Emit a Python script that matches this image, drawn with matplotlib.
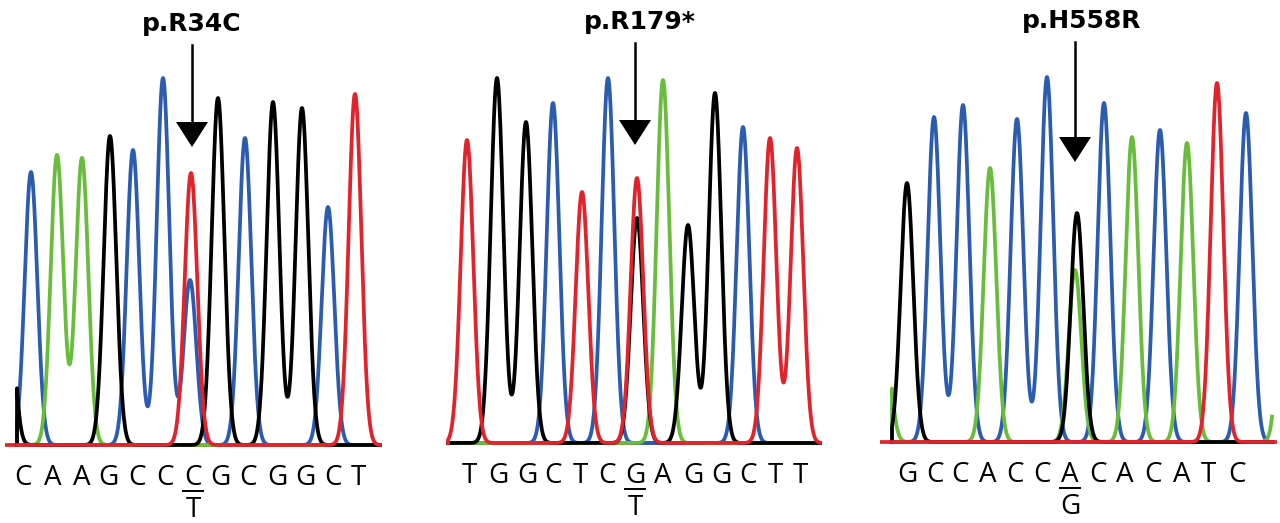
import numpy as np
import matplotlib
matplotlib.use("Agg")
import matplotlib.pyplot as plt

# base -> trace colour
BASE_COLORS = {"C": "#2c5caf", "A": "#69bd3c", "G": "#000000", "T": "#e2232b"}
DRAW_ORDER = ["C", "A", "G", "T"]
SIGMA = 6.3

# panel 1: p.R34C
p1_title = "p.R34C"
p1_peak_base = ["G", "C", "A", "A", "G", "C", "C", "T", "C", "G", "C", "G", "G", "C", "T"]
p1_peak_pos = [7, 31, 57, 82, 110, 133, 163, 191, 190, 218, 245, 273, 302, 328, 355]
p1_peak_height = [200, 273, 290, 287, 309, 295, 367, 272, 165, 347, 307, 343, 337, 238, 351]
p1_seq = "CAAGCCCGCGGCT"
p1_seq_pos = [23, 53, 82, 108, 137, 165, 193, 220, 248, 277, 305, 333, 358]
p1_mut_index = 6
p1_alt = "T"

# panel 2: p.R179*
p2_title = "p.R179*"
p2_peak_base = ["T", "G", "G", "C", "T", "C", "T", "G", "A", "G", "G", "C", "T", "T"]
p2_peak_pos = [37, 67, 96, 123, 152, 178, 207, 207, 233, 258, 285, 313, 340, 367]
p2_peak_height = [303, 365, 321, 340, 251, 365, 265, 225, 363, 218, 350, 316, 305, 295]
p2_seq = "TGGCTCGAGGCTT"
p2_seq_pos = [39, 68, 97, 123, 150, 177, 205, 233, 263, 291, 318, 345, 370]
p2_mut_index = 6
p2_alt = "T"

# panel 3: p.H558R
p3_title = "p.H558R"
p3_peak_base = ["A", "G", "C", "C", "A", "C", "C", "G", "A", "C", "A", "C", "A", "T", "C", "A"]
p3_peak_pos = [14, 37, 64, 93, 120, 147, 177, 207, 205, 234, 262, 290, 317, 347, 376, 416]
p3_peak_height = [120, 259, 325, 337, 274, 323, 365, 229, 172, 339, 305, 312, 299, 359, 329, 300]
p3_seq = "GCCACCACACATC"
p3_seq_pos = [37, 65, 90, 118, 145, 172, 200, 228, 255, 283, 312, 338, 367]
p3_mut_index = 6
p3_alt = "G"


def draw_panel(ax, title, title_x, bases, pos, heights, seq, seq_pos, mut_i, alt,
               trace_lim, base_lim, arrow_x, arrow_tip, baseline_px, width_px):
    x = np.linspace(trace_lim[0], trace_lim[1], 3000)
    pos = np.array(pos, dtype=float)
    heights = np.array(heights, dtype=float)
    bases = np.array(bases)

    ax.plot(base_lim, [0, 0], color=BASE_COLORS["T"], lw=2.7, solid_capstyle="butt")
    for b in DRAW_ORDER:
        sel = bases == b
        y = np.zeros_like(x)
        for p, h in zip(pos[sel], heights[sel]):
            y += h * np.exp(-(x - p) ** 2 / (2 * SIGMA ** 2))
        xs = np.concatenate([[x[0]], x])
        ys = np.concatenate([[0], y])
        ax.plot(xs, ys, color=BASE_COLORS[b], lw=2.7, solid_joinstyle="round")

    # title + arrow
    ax.text(title_x, 414, title, ha="center", va="baseline",
            fontsize=18, fontweight="bold", family="DejaVu Sans")
    ax.plot([arrow_x, arrow_x], [400, arrow_tip + 20], color="black", lw=1.8)
    ax.fill([arrow_x - 16, arrow_x + 16, arrow_x], [arrow_tip + 25, arrow_tip + 25, arrow_tip],
            color="black", lw=0)

    # base calls
    for ch, sx in zip(seq, seq_pos):
        ax.text(sx, -33, ch, ha="center", va="center", fontsize=20, family="Open Sans")
    mx = seq_pos[mut_i]
    ax.plot([mx - 10, mx + 10], [-46, -46], color="black", lw=1.4)
    ax.text(mx, -65, alt, ha="center", va="center", fontsize=20, family="Open Sans")

    ax.set_xlim(0, width_px)
    ax.set_ylim(baseline_px - 523, baseline_px)
    ax.axis("off")


fig = plt.figure(figsize=(12.8, 5.23), dpi=100)
W = 1280.0
ax1 = fig.add_axes([0 / W, 0, 400 / W, 1])
ax2 = fig.add_axes([430 / W, 0, 400 / W, 1])
ax3 = fig.add_axes([870 / W, 0, 410 / W, 1])

draw_panel(ax1, p1_title, 192, p1_peak_base, p1_peak_pos, p1_peak_height, p1_seq, p1_seq_pos,
           p1_mut_index, p1_alt, (17, 380), (5, 380), 192, 298, 445, 400)
draw_panel(ax2, p2_title, 210, p2_peak_base, p2_peak_pos, p2_peak_height, p2_seq, p2_seq_pos,
           p2_mut_index, p2_alt, (18, 390), (18, 390), 205, 298, 443, 400)
draw_panel(ax3, p3_title, 212, p3_peak_base, p3_peak_pos, p3_peak_height, p3_seq, p3_seq_pos,
           p3_mut_index, p3_alt, (22, 402), (10, 407), 205, 280, 442, 410)

fig.savefig("out.png", dpi=100, facecolor="white")
